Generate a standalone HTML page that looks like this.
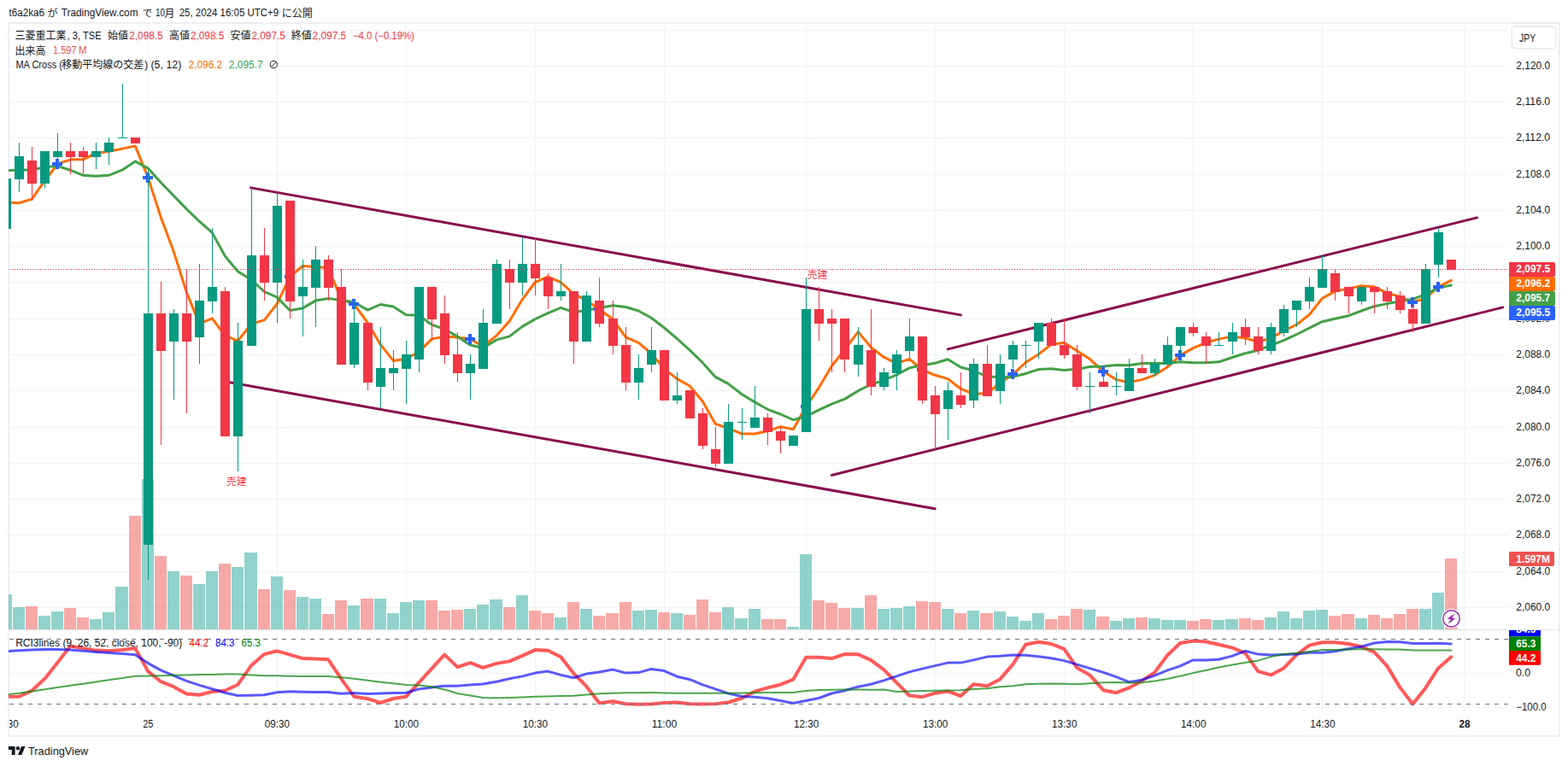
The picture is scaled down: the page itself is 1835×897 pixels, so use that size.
<!DOCTYPE html><html><head><meta charset="utf-8"><title>chart</title><style>html,body{margin:0;padding:0;background:#fff}svg{display:block}</style></head><body><svg width="1835" height="897" viewBox="0 0 1835 897" font-family="'Liberation Sans', sans-serif">
<rect width="1835" height="897" fill="#fff"/>
<defs><clipPath id="cp"><rect x="11" y="28" width="1754" height="805"/></clipPath><clipPath id="cpm"><rect x="10" y="28" width="1755" height="709"/></clipPath><clipPath id="cpr"><rect x="10" y="738" width="1755" height="95"/></clipPath><clipPath id="cpt"><rect x="11" y="834" width="1754" height="27"/></clipPath><clipPath id="cpa"><rect x="1765" y="738" width="59" height="95"/></clipPath></defs>
<rect x="10" y="27" width="1815" height="835" fill="none" stroke="#edeff5" stroke-width="2"/>
<g fill="#f0f3f4" shape-rendering="crispEdges"><rect x="11" y="711" width="1754" height="1"/><rect x="11" y="669" width="1754" height="1"/><rect x="11" y="626" width="1754" height="1"/><rect x="11" y="584" width="1754" height="1"/><rect x="11" y="542" width="1754" height="1"/><rect x="11" y="500" width="1754" height="1"/><rect x="11" y="457" width="1754" height="1"/><rect x="11" y="415" width="1754" height="1"/><rect x="11" y="373" width="1754" height="1"/><rect x="11" y="330" width="1754" height="1"/><rect x="11" y="288" width="1754" height="1"/><rect x="11" y="246" width="1754" height="1"/><rect x="11" y="204" width="1754" height="1"/><rect x="11" y="161" width="1754" height="1"/><rect x="11" y="119" width="1754" height="1"/><rect x="11" y="77" width="1754" height="1"/><rect x="11" y="35" width="1754" height="1"/><rect x="11" y="788" width="1754" height="1"/><rect x="11" y="828" width="1754" height="1"/><rect x="173" y="28" width="1" height="806"/><rect x="324" y="28" width="1" height="806"/><rect x="475" y="28" width="1" height="806"/><rect x="626" y="28" width="1" height="806"/><rect x="777" y="28" width="1" height="806"/><rect x="943" y="28" width="1" height="806"/><rect x="1094" y="28" width="1" height="806"/><rect x="1245" y="28" width="1" height="806"/><rect x="1396" y="28" width="1" height="806"/><rect x="1547" y="28" width="1" height="806"/><rect x="1713" y="28" width="1" height="806"/></g>
<rect x="11" y="737" width="1813" height="1" fill="#e0e3eb" shape-rendering="crispEdges"/>
<g clip-path="url(#cpm)" shape-rendering="crispEdges"><rect x="-1" y="696" width="15" height="41" fill="rgba(38,166,154,0.5)"/><rect x="15" y="711" width="14" height="26" fill="rgba(38,166,154,0.5)"/><rect x="30" y="710" width="14" height="27" fill="rgba(239,83,80,0.5)"/><rect x="45" y="721" width="14" height="16" fill="rgba(38,166,154,0.5)"/><rect x="60" y="716" width="14" height="21" fill="rgba(38,166,154,0.5)"/><rect x="75" y="712" width="14" height="25" fill="rgba(239,83,80,0.5)"/><rect x="90" y="723" width="14" height="14" fill="rgba(239,83,80,0.5)"/><rect x="105" y="725" width="14" height="12" fill="rgba(38,166,154,0.5)"/><rect x="120" y="717" width="14" height="20" fill="rgba(38,166,154,0.5)"/><rect x="135" y="687" width="15" height="50" fill="rgba(38,166,154,0.5)"/><rect x="151" y="604" width="14" height="133" fill="rgba(239,83,80,0.5)"/><rect x="166" y="561" width="14" height="176" fill="rgba(38,166,154,0.5)"/><rect x="181" y="651" width="14" height="86" fill="rgba(239,83,80,0.5)"/><rect x="196" y="669" width="14" height="68" fill="rgba(38,166,154,0.5)"/><rect x="211" y="674" width="14" height="63" fill="rgba(239,83,80,0.5)"/><rect x="226" y="684" width="14" height="53" fill="rgba(38,166,154,0.5)"/><rect x="241" y="669" width="14" height="68" fill="rgba(38,166,154,0.5)"/><rect x="256" y="660" width="14" height="77" fill="rgba(239,83,80,0.5)"/><rect x="271" y="664" width="14" height="73" fill="rgba(38,166,154,0.5)"/><rect x="286" y="647" width="15" height="90" fill="rgba(38,166,154,0.5)"/><rect x="302" y="690" width="14" height="47" fill="rgba(239,83,80,0.5)"/><rect x="317" y="675" width="14" height="62" fill="rgba(38,166,154,0.5)"/><rect x="332" y="691" width="14" height="46" fill="rgba(239,83,80,0.5)"/><rect x="347" y="699" width="14" height="38" fill="rgba(38,166,154,0.5)"/><rect x="362" y="701" width="14" height="36" fill="rgba(38,166,154,0.5)"/><rect x="377" y="719" width="14" height="18" fill="rgba(239,83,80,0.5)"/><rect x="392" y="703" width="14" height="34" fill="rgba(239,83,80,0.5)"/><rect x="407" y="709" width="14" height="28" fill="rgba(38,166,154,0.5)"/><rect x="422" y="701" width="15" height="36" fill="rgba(239,83,80,0.5)"/><rect x="438" y="701" width="14" height="36" fill="rgba(38,166,154,0.5)"/><rect x="453" y="718" width="14" height="19" fill="rgba(38,166,154,0.5)"/><rect x="468" y="705" width="14" height="32" fill="rgba(38,166,154,0.5)"/><rect x="483" y="703" width="14" height="34" fill="rgba(38,166,154,0.5)"/><rect x="498" y="703" width="14" height="34" fill="rgba(239,83,80,0.5)"/><rect x="513" y="715" width="14" height="22" fill="rgba(239,83,80,0.5)"/><rect x="528" y="714" width="14" height="23" fill="rgba(239,83,80,0.5)"/><rect x="543" y="713" width="14" height="24" fill="rgba(38,166,154,0.5)"/><rect x="558" y="708" width="14" height="29" fill="rgba(38,166,154,0.5)"/><rect x="573" y="702" width="15" height="35" fill="rgba(38,166,154,0.5)"/><rect x="589" y="711" width="14" height="26" fill="rgba(239,83,80,0.5)"/><rect x="604" y="697" width="14" height="40" fill="rgba(38,166,154,0.5)"/><rect x="619" y="715" width="14" height="22" fill="rgba(239,83,80,0.5)"/><rect x="634" y="718" width="14" height="19" fill="rgba(239,83,80,0.5)"/><rect x="649" y="723" width="14" height="14" fill="rgba(38,166,154,0.5)"/><rect x="664" y="705" width="14" height="32" fill="rgba(239,83,80,0.5)"/><rect x="679" y="713" width="14" height="24" fill="rgba(38,166,154,0.5)"/><rect x="694" y="721" width="14" height="16" fill="rgba(239,83,80,0.5)"/><rect x="709" y="718" width="15" height="19" fill="rgba(239,83,80,0.5)"/><rect x="725" y="705" width="14" height="32" fill="rgba(239,83,80,0.5)"/><rect x="740" y="715" width="14" height="22" fill="rgba(38,166,154,0.5)"/><rect x="755" y="714" width="14" height="23" fill="rgba(38,166,154,0.5)"/><rect x="770" y="717" width="14" height="20" fill="rgba(239,83,80,0.5)"/><rect x="785" y="718" width="14" height="19" fill="rgba(38,166,154,0.5)"/><rect x="800" y="720" width="14" height="17" fill="rgba(239,83,80,0.5)"/><rect x="815" y="702" width="14" height="35" fill="rgba(239,83,80,0.5)"/><rect x="830" y="717" width="14" height="20" fill="rgba(239,83,80,0.5)"/><rect x="845" y="711" width="14" height="26" fill="rgba(38,166,154,0.5)"/><rect x="860" y="724" width="15" height="13" fill="rgba(38,166,154,0.5)"/><rect x="876" y="713" width="14" height="24" fill="rgba(38,166,154,0.5)"/><rect x="891" y="725" width="14" height="12" fill="rgba(239,83,80,0.5)"/><rect x="906" y="725" width="14" height="12" fill="rgba(239,83,80,0.5)"/><rect x="921" y="734" width="14" height="3" fill="rgba(38,166,154,0.5)"/><rect x="936" y="649" width="14" height="88" fill="rgba(38,166,154,0.5)"/><rect x="951" y="703" width="14" height="34" fill="rgba(239,83,80,0.5)"/><rect x="966" y="706" width="14" height="31" fill="rgba(239,83,80,0.5)"/><rect x="981" y="712" width="14" height="25" fill="rgba(239,83,80,0.5)"/><rect x="996" y="712" width="15" height="25" fill="rgba(38,166,154,0.5)"/><rect x="1012" y="697" width="14" height="40" fill="rgba(239,83,80,0.5)"/><rect x="1027" y="713" width="14" height="24" fill="rgba(38,166,154,0.5)"/><rect x="1042" y="712" width="14" height="25" fill="rgba(38,166,154,0.5)"/><rect x="1057" y="710" width="14" height="27" fill="rgba(38,166,154,0.5)"/><rect x="1072" y="704" width="14" height="33" fill="rgba(239,83,80,0.5)"/><rect x="1087" y="705" width="14" height="32" fill="rgba(239,83,80,0.5)"/><rect x="1102" y="713" width="14" height="24" fill="rgba(38,166,154,0.5)"/><rect x="1117" y="718" width="14" height="19" fill="rgba(239,83,80,0.5)"/><rect x="1132" y="715" width="14" height="22" fill="rgba(38,166,154,0.5)"/><rect x="1147" y="718" width="15" height="19" fill="rgba(239,83,80,0.5)"/><rect x="1163" y="716" width="14" height="21" fill="rgba(38,166,154,0.5)"/><rect x="1178" y="722" width="14" height="15" fill="rgba(38,166,154,0.5)"/><rect x="1193" y="727" width="14" height="10" fill="rgba(38,166,154,0.5)"/><rect x="1208" y="718" width="14" height="19" fill="rgba(38,166,154,0.5)"/><rect x="1223" y="725" width="14" height="12" fill="rgba(239,83,80,0.5)"/><rect x="1238" y="721" width="14" height="16" fill="rgba(239,83,80,0.5)"/><rect x="1253" y="713" width="14" height="24" fill="rgba(239,83,80,0.5)"/><rect x="1268" y="714" width="14" height="23" fill="rgba(38,166,154,0.5)"/><rect x="1283" y="722" width="15" height="15" fill="rgba(239,83,80,0.5)"/><rect x="1299" y="727" width="14" height="10" fill="rgba(38,166,154,0.5)"/><rect x="1314" y="724" width="14" height="13" fill="rgba(38,166,154,0.5)"/><rect x="1329" y="723" width="14" height="14" fill="rgba(239,83,80,0.5)"/><rect x="1344" y="724" width="14" height="13" fill="rgba(38,166,154,0.5)"/><rect x="1359" y="726" width="14" height="11" fill="rgba(38,166,154,0.5)"/><rect x="1374" y="726" width="14" height="11" fill="rgba(38,166,154,0.5)"/><rect x="1389" y="727" width="14" height="10" fill="rgba(239,83,80,0.5)"/><rect x="1404" y="725" width="14" height="12" fill="rgba(239,83,80,0.5)"/><rect x="1419" y="726" width="14" height="11" fill="rgba(38,166,154,0.5)"/><rect x="1434" y="725" width="15" height="12" fill="rgba(38,166,154,0.5)"/><rect x="1450" y="724" width="14" height="13" fill="rgba(239,83,80,0.5)"/><rect x="1465" y="726" width="14" height="11" fill="rgba(239,83,80,0.5)"/><rect x="1480" y="723" width="14" height="14" fill="rgba(38,166,154,0.5)"/><rect x="1495" y="716" width="14" height="21" fill="rgba(38,166,154,0.5)"/><rect x="1510" y="724" width="14" height="13" fill="rgba(38,166,154,0.5)"/><rect x="1525" y="715" width="14" height="22" fill="rgba(38,166,154,0.5)"/><rect x="1540" y="714" width="14" height="23" fill="rgba(38,166,154,0.5)"/><rect x="1555" y="721" width="14" height="16" fill="rgba(239,83,80,0.5)"/><rect x="1570" y="719" width="15" height="18" fill="rgba(239,83,80,0.5)"/><rect x="1586" y="724" width="14" height="13" fill="rgba(38,166,154,0.5)"/><rect x="1601" y="720" width="14" height="17" fill="rgba(239,83,80,0.5)"/><rect x="1616" y="724" width="14" height="13" fill="rgba(239,83,80,0.5)"/><rect x="1631" y="719" width="14" height="18" fill="rgba(239,83,80,0.5)"/><rect x="1646" y="713" width="14" height="24" fill="rgba(239,83,80,0.5)"/><rect x="1661" y="713" width="14" height="24" fill="rgba(38,166,154,0.5)"/><rect x="1676" y="694" width="14" height="43" fill="rgba(38,166,154,0.5)"/><rect x="1691" y="654" width="14" height="83" fill="rgba(239,83,80,0.5)"/></g>
<g clip-path="url(#cpm)">
<polyline points="7.25,236.8 22.25,237.7 37.25,233.1 52.25,211.8 67.25,192.1 82.25,186.8 97.25,186.8 112.25,179.4 127.25,177.3 143.25,174.1 158.25,170.9 173.25,207.9 188.25,254.4 203.25,294.6 218.25,342.1 233.25,379.1 248.25,372.8 263.25,392.8 278.25,399.2 294.25,379.1 309.25,374.9 324.25,355.8 339.25,324.1 354.25,311.5 369.25,312.5 384.25,313.6 399.25,350.6 414.25,355.8 430.25,378.0 445.25,403.4 460.25,422.4 475.25,420.3 490.25,411.9 505.25,397.1 520.25,393.9 535.25,394.9 550.25,397.1 565.25,405.5 581.25,392.8 596.25,375.9 611.25,350.6 626.25,330.5 641.25,324.1 656.25,330.5 671.25,344.2 686.25,351.6 701.25,362.2 717.25,373.8 732.25,394.9 747.25,401.3 762.25,414.0 777.25,431.9 792.25,443.6 807.25,452.0 822.25,470.0 837.25,496.4 852.25,501.7 868.25,508.0 883.25,508.0 898.25,504.8 913.25,499.6 928.25,502.7 943.25,476.3 958.25,454.1 973.25,428.8 988.25,409.7 1004.25,388.6 1019.25,406.6 1034.25,418.2 1049.25,425.6 1064.25,420.3 1079.25,433.0 1094.25,439.3 1109.25,443.6 1124.25,455.2 1139.25,461.5 1155.25,460.5 1170.25,448.8 1185.25,438.3 1200.25,424.5 1215.25,415.0 1230.25,403.4 1245.25,401.3 1260.25,410.8 1275.25,420.3 1291.25,435.1 1306.25,444.6 1321.25,447.8 1336.25,444.6 1351.25,439.3 1366.25,429.8 1381.25,416.1 1396.25,407.6 1411.25,401.3 1426.25,397.1 1442.25,393.9 1457.25,396.0 1472.25,400.2 1487.25,396.0 1502.25,387.5 1517.25,380.2 1532.25,368.5 1547.25,349.5 1562.25,341.1 1578.25,337.9 1593.25,334.7 1608.25,335.8 1623.25,343.2 1638.25,347.4 1653.25,353.7 1668.25,349.5 1683.25,335.8 1698.25,328.4" fill="none" stroke="#ff6d00" stroke-width="3" stroke-linejoin="round" stroke-linecap="round" />
<polyline points="7.25,199.9 22.25,198.8 37.25,199.2 52.25,195.5 67.25,194.4 82.25,199.2 97.25,205.3 112.25,206.2 127.25,205.3 143.25,198.9 158.25,188.9 173.25,197.1 188.25,213.8 203.25,229.2 218.25,244.6 233.25,259.2 248.25,272.4 263.25,299.7 278.25,317.7 294.25,327.8 309.25,341.5 324.25,348.1 339.25,363.5 354.25,360.9 369.25,352.1 384.25,349.4 399.25,351.6 414.25,353.8 430.25,363.1 445.25,356.5 460.25,359.1 475.25,368.8 490.25,369.2 505.25,380.2 520.25,385.5 535.25,393.9 550.25,404.0 565.25,407.5 581.25,397.9 596.25,393.9 611.25,382.4 626.25,373.6 641.25,366.6 656.25,360.4 671.25,365.7 686.25,363.5 701.25,360.4 717.25,357.8 732.25,359.5 747.25,364.0 762.25,372.3 777.25,383.8 792.25,396.5 807.25,410.2 822.25,424.7 837.25,441.4 852.25,449.4 868.25,461.7 883.25,470.9 898.25,479.3 913.25,485.0 928.25,491.6 943.25,487.7 958.25,480.2 973.25,473.1 988.25,467.4 1004.25,457.7 1019.25,450.2 1034.25,445.4 1049.25,438.8 1064.25,430.9 1079.25,427.8 1094.25,425.2 1109.25,420.7 1124.25,430.0 1139.25,434.0 1155.25,441.0 1170.25,441.4 1185.25,441.4 1200.25,437.5 1215.25,432.6 1230.25,431.8 1245.25,433.5 1260.25,432.2 1275.25,429.6 1291.25,429.1 1306.25,427.4 1321.25,427.8 1336.25,425.6 1351.25,425.6 1366.25,425.6 1381.25,423.8 1396.25,424.7 1411.25,424.7 1426.25,423.8 1442.25,418.5 1457.25,413.7 1472.25,410.2 1487.25,404.5 1502.25,398.7 1517.25,391.7 1532.25,384.2 1547.25,376.7 1562.25,373.2 1578.25,369.7 1593.25,364.0 1608.25,358.7 1623.25,355.6 1638.25,352.9 1653.25,350.3 1668.25,344.6 1683.25,337.1 1698.25,334.0" fill="none" stroke="#43a047" stroke-width="3" stroke-linejoin="round" stroke-linecap="round" />
<path d="M61 190h4v-4h4v4h4v4h-4v4h-4v-4h-4z" fill="#2962ff" shape-rendering="crispEdges"/>
<path d="M167 206h4v-4h4v4h4v4h-4v4h-4v-4h-4z" fill="#2962ff" shape-rendering="crispEdges"/>
<path d="M333 322h4v-4h4v4h4v4h-4v4h-4v-4h-4z" fill="#2962ff" shape-rendering="crispEdges"/>
<path d="M408 354h4v-4h4v4h4v4h-4v4h-4v-4h-4z" fill="#2962ff" shape-rendering="crispEdges"/>
<path d="M544 395h4v-4h4v4h4v4h-4v4h-4v-4h-4z" fill="#2962ff" shape-rendering="crispEdges"/>
<path d="M695 360h4v-4h4v4h4v4h-4v4h-4v-4h-4z" fill="#2962ff" shape-rendering="crispEdges"/>
<path d="M937 474h4v-4h4v4h4v4h-4v4h-4v-4h-4z" fill="#2962ff" shape-rendering="crispEdges"/>
<path d="M1073 431h4v-4h4v4h4v4h-4v4h-4v-4h-4z" fill="#2962ff" shape-rendering="crispEdges"/>
<path d="M1179 436h4v-4h4v4h4v4h-4v4h-4v-4h-4z" fill="#2962ff" shape-rendering="crispEdges"/>
<path d="M1285 433h4v-4h4v4h4v4h-4v4h-4v-4h-4z" fill="#2962ff" shape-rendering="crispEdges"/>
<path d="M1375 414h4v-4h4v4h4v4h-4v4h-4v-4h-4z" fill="#2962ff" shape-rendering="crispEdges"/>
<path d="M1647 352h4v-4h4v4h4v4h-4v4h-4v-4h-4z" fill="#2962ff" shape-rendering="crispEdges"/>
<path d="M1677 334h4v-4h4v4h4v4h-4v4h-4v-4h-4z" fill="#2962ff" shape-rendering="crispEdges"/>
</g>
<line x1="293.59" y1="219.86" x2="1124.37" y2="368.89" stroke="#880e4f" stroke-width="3" stroke-linecap="round"/>
<line x1="263.38" y1="446.69" x2="1094.15" y2="595.78" stroke="#880e4f" stroke-width="3" stroke-linecap="round"/>
<line x1="1109.26" y1="408.86" x2="1728.57" y2="254.91" stroke="#880e4f" stroke-width="3" stroke-linecap="round"/>
<line x1="973.32" y1="556.42" x2="1758.78" y2="359.91" stroke="#880e4f" stroke-width="3" stroke-linecap="round"/>
<g clip-path="url(#cpm)" shape-rendering="crispEdges"><rect x="7" y="209" width="1" height="58" fill="#089981"/><rect x="2" y="209" width="11" height="59" fill="#089981"/><rect x="22" y="167" width="1" height="58" fill="#089981"/><rect x="17" y="183" width="11" height="27" fill="#089981"/><rect x="37" y="172" width="1" height="63" fill="#f23645"/><rect x="32" y="188" width="11" height="27" fill="#f23645"/><rect x="52" y="177" width="1" height="43" fill="#089981"/><rect x="47" y="177" width="11" height="38" fill="#089981"/><rect x="67" y="156" width="1" height="37" fill="#089981"/><rect x="62" y="177" width="11" height="7" fill="#089981"/><rect x="82" y="167" width="1" height="37" fill="#f23645"/><rect x="77" y="177" width="11" height="7" fill="#f23645"/><rect x="97" y="172" width="1" height="32" fill="#f23645"/><rect x="92" y="177" width="11" height="7" fill="#f23645"/><rect x="112" y="167" width="1" height="31" fill="#089981"/><rect x="107" y="177" width="11" height="7" fill="#089981"/><rect x="127" y="161" width="1" height="32" fill="#089981"/><rect x="122" y="167" width="11" height="11" fill="#089981"/><rect x="143" y="98" width="1" height="63" fill="#089981"/><rect x="138" y="161" width="11" height="1" fill="#089981"/><rect x="158" y="161" width="1" height="6" fill="#f23645"/><rect x="153" y="161" width="11" height="7" fill="#f23645"/><rect x="173" y="198" width="1" height="481" fill="#089981"/><rect x="168" y="367" width="11" height="271" fill="#089981"/><rect x="188" y="330" width="1" height="191" fill="#f23645"/><rect x="183" y="367" width="11" height="44" fill="#f23645"/><rect x="203" y="362" width="1" height="106" fill="#089981"/><rect x="198" y="367" width="11" height="33" fill="#089981"/><rect x="218" y="315" width="1" height="169" fill="#f23645"/><rect x="213" y="367" width="11" height="33" fill="#f23645"/><rect x="233" y="309" width="1" height="117" fill="#089981"/><rect x="228" y="352" width="11" height="43" fill="#089981"/><rect x="248" y="267" width="1" height="100" fill="#089981"/><rect x="243" y="336" width="11" height="17" fill="#089981"/><rect x="263" y="336" width="1" height="174" fill="#f23645"/><rect x="258" y="341" width="11" height="170" fill="#f23645"/><rect x="278" y="378" width="1" height="174" fill="#089981"/><rect x="273" y="399" width="11" height="112" fill="#089981"/><rect x="294" y="220" width="1" height="184" fill="#089981"/><rect x="289" y="299" width="11" height="106" fill="#089981"/><rect x="309" y="267" width="1" height="85" fill="#f23645"/><rect x="304" y="299" width="11" height="32" fill="#f23645"/><rect x="324" y="225" width="1" height="153" fill="#089981"/><rect x="319" y="241" width="11" height="90" fill="#089981"/><rect x="339" y="235" width="1" height="138" fill="#f23645"/><rect x="334" y="235" width="11" height="118" fill="#f23645"/><rect x="354" y="304" width="1" height="90" fill="#089981"/><rect x="349" y="336" width="11" height="11" fill="#089981"/><rect x="369" y="288" width="1" height="95" fill="#089981"/><rect x="364" y="304" width="11" height="33" fill="#089981"/><rect x="384" y="299" width="1" height="53" fill="#f23645"/><rect x="379" y="304" width="11" height="33" fill="#f23645"/><rect x="399" y="315" width="1" height="111" fill="#f23645"/><rect x="394" y="336" width="11" height="91" fill="#f23645"/><rect x="414" y="352" width="1" height="79" fill="#089981"/><rect x="409" y="378" width="11" height="49" fill="#089981"/><rect x="430" y="378" width="1" height="79" fill="#f23645"/><rect x="425" y="378" width="11" height="70" fill="#f23645"/><rect x="445" y="383" width="1" height="95" fill="#089981"/><rect x="440" y="431" width="11" height="22" fill="#089981"/><rect x="460" y="410" width="1" height="47" fill="#089981"/><rect x="455" y="431" width="11" height="6" fill="#089981"/><rect x="475" y="399" width="1" height="74" fill="#089981"/><rect x="470" y="415" width="11" height="17" fill="#089981"/><rect x="490" y="336" width="1" height="100" fill="#089981"/><rect x="485" y="336" width="11" height="85" fill="#089981"/><rect x="505" y="336" width="1" height="63" fill="#f23645"/><rect x="500" y="336" width="11" height="38" fill="#f23645"/><rect x="520" y="346" width="1" height="80" fill="#f23645"/><rect x="515" y="367" width="11" height="49" fill="#f23645"/><rect x="535" y="389" width="1" height="58" fill="#f23645"/><rect x="530" y="415" width="11" height="22" fill="#f23645"/><rect x="550" y="415" width="1" height="53" fill="#089981"/><rect x="545" y="426" width="11" height="11" fill="#089981"/><rect x="565" y="362" width="1" height="69" fill="#089981"/><rect x="560" y="378" width="11" height="54" fill="#089981"/><rect x="581" y="304" width="1" height="74" fill="#089981"/><rect x="576" y="309" width="11" height="70" fill="#089981"/><rect x="596" y="304" width="1" height="58" fill="#f23645"/><rect x="591" y="315" width="11" height="16" fill="#f23645"/><rect x="611" y="278" width="1" height="68" fill="#089981"/><rect x="606" y="309" width="11" height="22" fill="#089981"/><rect x="626" y="278" width="1" height="68" fill="#f23645"/><rect x="621" y="309" width="11" height="17" fill="#f23645"/><rect x="641" y="320" width="1" height="42" fill="#f23645"/><rect x="636" y="325" width="11" height="22" fill="#f23645"/><rect x="656" y="309" width="1" height="43" fill="#089981"/><rect x="651" y="341" width="11" height="6" fill="#089981"/><rect x="671" y="341" width="1" height="85" fill="#f23645"/><rect x="666" y="341" width="11" height="59" fill="#f23645"/><rect x="686" y="341" width="1" height="58" fill="#089981"/><rect x="681" y="346" width="11" height="54" fill="#089981"/><rect x="701" y="325" width="1" height="58" fill="#f23645"/><rect x="696" y="352" width="11" height="27" fill="#f23645"/><rect x="717" y="352" width="1" height="63" fill="#f23645"/><rect x="712" y="373" width="11" height="32" fill="#f23645"/><rect x="732" y="383" width="1" height="74" fill="#f23645"/><rect x="727" y="404" width="11" height="44" fill="#f23645"/><rect x="747" y="415" width="1" height="53" fill="#089981"/><rect x="742" y="431" width="11" height="17" fill="#089981"/><rect x="762" y="383" width="1" height="53" fill="#089981"/><rect x="757" y="410" width="11" height="17" fill="#089981"/><rect x="777" y="410" width="1" height="58" fill="#f23645"/><rect x="772" y="410" width="11" height="59" fill="#f23645"/><rect x="792" y="436" width="1" height="37" fill="#089981"/><rect x="787" y="463" width="11" height="6" fill="#089981"/><rect x="807" y="457" width="1" height="32" fill="#f23645"/><rect x="802" y="457" width="11" height="33" fill="#f23645"/><rect x="822" y="478" width="1" height="48" fill="#f23645"/><rect x="817" y="484" width="11" height="38" fill="#f23645"/><rect x="837" y="500" width="1" height="47" fill="#f23645"/><rect x="832" y="526" width="11" height="17" fill="#f23645"/><rect x="852" y="473" width="1" height="69" fill="#089981"/><rect x="847" y="494" width="11" height="49" fill="#089981"/><rect x="868" y="478" width="1" height="37" fill="#089981"/><rect x="863" y="494" width="11" height="1" fill="#089981"/><rect x="883" y="452" width="1" height="48" fill="#089981"/><rect x="878" y="489" width="11" height="12" fill="#089981"/><rect x="898" y="484" width="1" height="37" fill="#f23645"/><rect x="893" y="489" width="11" height="17" fill="#f23645"/><rect x="913" y="500" width="1" height="31" fill="#f23645"/><rect x="908" y="505" width="11" height="11" fill="#f23645"/><rect x="928" y="510" width="1" height="11" fill="#089981"/><rect x="923" y="510" width="11" height="12" fill="#089981"/><rect x="943" y="325" width="1" height="180" fill="#089981"/><rect x="938" y="362" width="11" height="144" fill="#089981"/><rect x="958" y="336" width="1" height="63" fill="#f23645"/><rect x="953" y="362" width="11" height="17" fill="#f23645"/><rect x="973" y="362" width="1" height="74" fill="#f23645"/><rect x="968" y="373" width="11" height="6" fill="#f23645"/><rect x="988" y="373" width="1" height="63" fill="#f23645"/><rect x="983" y="373" width="11" height="48" fill="#f23645"/><rect x="1004" y="383" width="1" height="58" fill="#089981"/><rect x="999" y="404" width="11" height="23" fill="#089981"/><rect x="1019" y="362" width="1" height="101" fill="#f23645"/><rect x="1014" y="410" width="11" height="43" fill="#f23645"/><rect x="1034" y="431" width="1" height="26" fill="#089981"/><rect x="1029" y="436" width="11" height="17" fill="#089981"/><rect x="1049" y="410" width="1" height="47" fill="#089981"/><rect x="1044" y="415" width="11" height="22" fill="#089981"/><rect x="1064" y="373" width="1" height="47" fill="#089981"/><rect x="1059" y="394" width="11" height="17" fill="#089981"/><rect x="1079" y="394" width="1" height="79" fill="#f23645"/><rect x="1074" y="394" width="11" height="75" fill="#f23645"/><rect x="1094" y="452" width="1" height="74" fill="#f23645"/><rect x="1089" y="463" width="11" height="22" fill="#f23645"/><rect x="1109" y="447" width="1" height="68" fill="#089981"/><rect x="1104" y="457" width="11" height="22" fill="#089981"/><rect x="1124" y="436" width="1" height="42" fill="#f23645"/><rect x="1119" y="463" width="11" height="11" fill="#f23645"/><rect x="1139" y="420" width="1" height="58" fill="#089981"/><rect x="1134" y="426" width="11" height="43" fill="#089981"/><rect x="1155" y="404" width="1" height="59" fill="#f23645"/><rect x="1150" y="426" width="11" height="38" fill="#f23645"/><rect x="1170" y="415" width="1" height="58" fill="#089981"/><rect x="1165" y="426" width="11" height="32" fill="#089981"/><rect x="1185" y="399" width="1" height="32" fill="#089981"/><rect x="1180" y="404" width="11" height="17" fill="#089981"/><rect x="1200" y="399" width="1" height="32" fill="#089981"/><rect x="1195" y="404" width="11" height="1" fill="#089981"/><rect x="1215" y="378" width="1" height="42" fill="#089981"/><rect x="1210" y="378" width="11" height="22" fill="#089981"/><rect x="1230" y="373" width="1" height="31" fill="#f23645"/><rect x="1225" y="378" width="11" height="27" fill="#f23645"/><rect x="1245" y="373" width="1" height="47" fill="#f23645"/><rect x="1240" y="404" width="11" height="12" fill="#f23645"/><rect x="1260" y="404" width="1" height="53" fill="#f23645"/><rect x="1255" y="415" width="11" height="38" fill="#f23645"/><rect x="1275" y="436" width="1" height="48" fill="#089981"/><rect x="1270" y="452" width="11" height="1" fill="#089981"/><rect x="1291" y="431" width="1" height="21" fill="#f23645"/><rect x="1286" y="447" width="11" height="6" fill="#f23645"/><rect x="1306" y="436" width="1" height="27" fill="#089981"/><rect x="1301" y="452" width="11" height="1" fill="#089981"/><rect x="1321" y="420" width="1" height="37" fill="#089981"/><rect x="1316" y="431" width="11" height="27" fill="#089981"/><rect x="1336" y="415" width="1" height="21" fill="#f23645"/><rect x="1331" y="431" width="11" height="6" fill="#f23645"/><rect x="1351" y="420" width="1" height="21" fill="#089981"/><rect x="1346" y="426" width="11" height="11" fill="#089981"/><rect x="1366" y="394" width="1" height="37" fill="#089981"/><rect x="1361" y="404" width="11" height="23" fill="#089981"/><rect x="1381" y="383" width="1" height="32" fill="#089981"/><rect x="1376" y="383" width="11" height="22" fill="#089981"/><rect x="1396" y="378" width="1" height="16" fill="#f23645"/><rect x="1391" y="383" width="11" height="7" fill="#f23645"/><rect x="1411" y="389" width="1" height="37" fill="#f23645"/><rect x="1406" y="394" width="11" height="11" fill="#f23645"/><rect x="1426" y="389" width="1" height="15" fill="#089981"/><rect x="1421" y="404" width="11" height="1" fill="#089981"/><rect x="1442" y="378" width="1" height="37" fill="#089981"/><rect x="1437" y="389" width="11" height="11" fill="#089981"/><rect x="1457" y="373" width="1" height="31" fill="#f23645"/><rect x="1452" y="383" width="11" height="12" fill="#f23645"/><rect x="1472" y="383" width="1" height="32" fill="#f23645"/><rect x="1467" y="394" width="11" height="17" fill="#f23645"/><rect x="1487" y="378" width="1" height="37" fill="#089981"/><rect x="1482" y="383" width="11" height="28" fill="#089981"/><rect x="1502" y="357" width="1" height="37" fill="#089981"/><rect x="1497" y="362" width="11" height="28" fill="#089981"/><rect x="1517" y="352" width="1" height="31" fill="#089981"/><rect x="1512" y="352" width="11" height="11" fill="#089981"/><rect x="1532" y="325" width="1" height="37" fill="#089981"/><rect x="1527" y="336" width="11" height="17" fill="#089981"/><rect x="1547" y="299" width="1" height="37" fill="#089981"/><rect x="1542" y="315" width="11" height="22" fill="#089981"/><rect x="1562" y="315" width="1" height="37" fill="#f23645"/><rect x="1557" y="320" width="11" height="22" fill="#f23645"/><rect x="1578" y="336" width="1" height="31" fill="#f23645"/><rect x="1573" y="336" width="11" height="11" fill="#f23645"/><rect x="1593" y="336" width="1" height="21" fill="#089981"/><rect x="1588" y="336" width="11" height="17" fill="#089981"/><rect x="1608" y="336" width="1" height="31" fill="#f23645"/><rect x="1603" y="336" width="11" height="6" fill="#f23645"/><rect x="1623" y="336" width="1" height="26" fill="#f23645"/><rect x="1618" y="341" width="11" height="12" fill="#f23645"/><rect x="1638" y="341" width="1" height="26" fill="#f23645"/><rect x="1633" y="346" width="11" height="17" fill="#f23645"/><rect x="1653" y="357" width="1" height="32" fill="#f23645"/><rect x="1648" y="362" width="11" height="17" fill="#f23645"/><rect x="1668" y="309" width="1" height="69" fill="#089981"/><rect x="1663" y="315" width="11" height="64" fill="#089981"/><rect x="1683" y="267" width="1" height="58" fill="#089981"/><rect x="1678" y="272" width="11" height="38" fill="#089981"/><rect x="1698" y="304" width="1" height="11" fill="#f23645"/><rect x="1693" y="304" width="11" height="12" fill="#f23645"/></g>
<line x1="11" y1="315.5" x2="1764" y2="315.5" stroke="#f23645" stroke-width="1" stroke-dasharray="1 2" shape-rendering="crispEdges"/>
<text x="264.9" y="568.2" font-size="11.8" fill="#f23645" font-family="'Liberation Sans', 'Noto Sans CJK JP', sans-serif" textLength="23.6" lengthAdjust="spacingAndGlyphs" xml:space="preserve">売建</text>
<text x="944.7" y="326.0" font-size="11.8" fill="#f23645" font-family="'Liberation Sans', 'Noto Sans CJK JP', sans-serif" textLength="23.6" lengthAdjust="spacingAndGlyphs" xml:space="preserve">売建</text>
<g><circle cx="1698.45" cy="724.4" r="11.4" fill="#fff"/><circle cx="1698.45" cy="724.4" r="9.75" fill="#fff" stroke="#9c27b0" stroke-width="1.5"/><path d="M1701.7 719l-7.7 5.55 4.05.4-2.9 5 7.8-5.7-4-.3z" fill="#9c27b0" stroke="#9c27b0" stroke-width="0.5" stroke-linejoin="round"/></g>
<g clip-path="url(#cpr)">
<polyline points="7.25,815.7 22.25,815.7 37.25,808.7 52.25,794.9 67.25,776.1 82.25,756.6 97.25,759.1 112.25,761.6 127.25,762.3 143.25,761.1 158.25,759.1 173.25,786.1 188.25,798.2 203.25,804.2 218.25,812.5 233.25,813.7 248.25,810.0 263.25,808.7 278.25,801.7 294.25,779.1 309.25,766.1 324.25,762.3 339.25,766.6 354.25,771.1 369.25,771.6 384.25,772.3 399.25,794.9 414.25,815.7 430.25,818.2 445.25,823.0 460.25,818.0 475.25,815.7 490.25,799.4 505.25,782.9 520.25,766.6 535.25,781.1 550.25,776.1 565.25,781.9 581.25,776.9 596.25,774.4 611.25,767.8 626.25,761.1 641.25,761.8 656.25,769.3 671.25,788.6 686.25,803.7 701.25,823.2 717.25,821.2 732.25,824.2 747.25,824.7 762.25,824.5 777.25,823.0 792.25,822.5 807.25,824.2 822.25,824.5 837.25,824.2 852.25,822.5 868.25,817.5 883.25,809.7 898.25,805.4 913.25,801.7 928.25,795.7 943.25,769.8 958.25,769.8 973.25,771.1 988.25,766.1 1004.25,766.3 1019.25,773.1 1034.25,784.1 1049.25,799.4 1064.25,814.5 1079.25,816.2 1094.25,811.7 1109.25,809.5 1124.25,815.0 1139.25,801.2 1155.25,803.2 1170.25,795.4 1185.25,778.1 1200.25,754.8 1215.25,751.8 1230.25,754.0 1245.25,759.8 1260.25,781.9 1275.25,790.4 1291.25,808.2 1306.25,811.2 1321.25,805.4 1336.25,797.4 1351.25,787.4 1366.25,767.3 1381.25,753.0 1396.25,750.5 1411.25,751.5 1426.25,754.8 1442.25,758.6 1457.25,764.8 1472.25,786.1 1487.25,790.4 1502.25,782.4 1517.25,766.8 1532.25,755.6 1547.25,752.3 1562.25,752.3 1578.25,754.0 1593.25,757.3 1608.25,763.6 1623.25,779.9 1638.25,804.9 1653.25,824.5 1668.25,805.7 1683.25,782.4 1698.25,769.3" fill="none" stroke="#ff0000" stroke-width="4" stroke-linejoin="round" stroke-linecap="round" stroke-opacity="0.65"/>
<polyline points="7.25,762.8 22.25,761.8 37.25,761.1 52.25,760.6 67.25,760.6 82.25,761.1 97.25,762.3 112.25,763.6 127.25,764.6 143.25,765.6 158.25,766.8 173.25,776.6 188.25,784.9 203.25,791.2 218.25,797.4 233.25,802.4 248.25,806.7 263.25,811.2 278.25,814.5 294.25,814.2 309.25,813.7 324.25,810.7 339.25,809.7 354.25,810.2 369.25,810.5 384.25,810.5 399.25,812.2 414.25,811.5 430.25,812.5 445.25,812.0 460.25,811.5 475.25,811.2 490.25,806.9 505.25,804.9 520.25,803.2 535.25,803.2 550.25,801.9 565.25,800.9 581.25,798.2 596.25,794.7 611.25,791.9 626.25,788.1 641.25,786.1 656.25,790.4 671.25,793.7 686.25,789.1 701.25,786.9 717.25,784.1 732.25,788.1 747.25,787.6 762.25,783.4 777.25,785.6 792.25,792.2 807.25,795.7 822.25,801.9 837.25,806.9 852.25,812.0 868.25,815.5 883.25,816.2 898.25,817.7 913.25,820.5 928.25,823.5 943.25,820.5 958.25,817.5 973.25,812.0 988.25,808.7 1004.25,804.2 1019.25,801.2 1034.25,796.9 1049.25,791.9 1064.25,786.9 1079.25,783.1 1094.25,779.6 1109.25,776.1 1124.25,776.1 1139.25,772.9 1155.25,769.1 1170.25,768.3 1185.25,767.1 1200.25,767.3 1215.25,768.8 1230.25,770.8 1245.25,773.6 1260.25,778.1 1275.25,782.6 1291.25,787.4 1306.25,792.7 1321.25,798.7 1336.25,796.2 1351.25,791.2 1366.25,784.9 1381.25,779.9 1396.25,772.9 1411.25,772.9 1426.25,772.3 1442.25,768.1 1457.25,762.3 1472.25,766.1 1487.25,767.1 1502.25,766.6 1517.25,766.1 1532.25,764.3 1547.25,764.3 1562.25,762.8 1578.25,759.8 1593.25,757.3 1608.25,753.0 1623.25,751.5 1638.25,751.8 1653.25,753.5 1668.25,753.5 1683.25,753.3 1698.25,754.0" fill="none" stroke="#0000ff" stroke-width="3" stroke-linejoin="round" stroke-linecap="round" stroke-opacity="0.65"/>
<polyline points="7.25,813.2 22.25,811.7 37.25,809.5 52.25,807.2 67.25,804.9 82.25,802.7 97.25,800.7 112.25,798.4 127.25,796.2 143.25,793.9 158.25,791.7 173.25,791.4 188.25,791.2 203.25,790.7 218.25,790.4 233.25,790.1 248.25,789.9 263.25,789.6 278.25,789.6 294.25,790.4 309.25,791.2 324.25,791.2 339.25,791.7 354.25,791.9 369.25,791.9 384.25,791.9 399.25,793.2 414.25,794.7 430.25,796.7 445.25,798.7 460.25,800.2 475.25,801.9 490.25,802.4 505.25,804.2 520.25,807.4 535.25,812.0 550.25,814.5 565.25,817.0 581.25,817.2 596.25,817.0 611.25,816.5 626.25,815.7 641.25,815.5 656.25,815.0 671.25,814.7 686.25,813.5 701.25,812.2 717.25,811.7 732.25,811.2 747.25,811.2 762.25,811.0 777.25,811.5 792.25,811.7 807.25,811.7 822.25,811.7 837.25,811.7 852.25,811.7 868.25,811.5 883.25,811.2 898.25,811.0 913.25,811.0 928.25,811.0 943.25,809.0 958.25,807.9 973.25,807.7 988.25,807.4 1004.25,807.4 1019.25,807.7 1034.25,807.4 1049.25,810.0 1064.25,809.5 1079.25,809.0 1094.25,808.7 1109.25,808.4 1124.25,808.2 1139.25,806.9 1155.25,806.2 1170.25,804.2 1185.25,803.2 1200.25,801.2 1215.25,800.7 1230.25,800.4 1245.25,800.7 1260.25,801.2 1275.25,800.2 1291.25,799.2 1306.25,798.9 1321.25,799.4 1336.25,799.2 1351.25,797.4 1366.25,794.9 1381.25,791.7 1396.25,788.1 1411.25,784.9 1426.25,781.6 1442.25,778.6 1457.25,776.1 1472.25,773.6 1487.25,769.1 1502.25,766.1 1517.25,764.8 1532.25,763.1 1547.25,761.1 1562.25,761.1 1578.25,760.6 1593.25,760.3 1608.25,760.3 1623.25,760.6 1638.25,760.6 1653.25,761.6 1668.25,761.6 1683.25,761.6 1698.25,761.6" fill="none" stroke="#008000" stroke-width="2" stroke-linejoin="round" stroke-linecap="round" stroke-opacity="0.7"/>
<line x1="10.6" y1="748.5" x2="1765" y2="748.5" stroke="#707278" stroke-width="1" stroke-dasharray="5 6" shape-rendering="crispEdges"/>
<line x1="10.6" y1="824.5" x2="1765" y2="824.5" stroke="#707278" stroke-width="1" stroke-dasharray="5 6" shape-rendering="crispEdges"/>
</g>
<text x="10.6" y="19.0" font-size="12" fill="#131722" textLength="41.4" lengthAdjust="spacingAndGlyphs" xml:space="preserve">t6a2ka6</text>
<text x="55.6" y="19.6" font-size="12" fill="#131722" font-family="'Liberation Sans', 'Noto Sans CJK JP', sans-serif" textLength="12" lengthAdjust="spacingAndGlyphs" xml:space="preserve">が</text>
<text x="71.8" y="19.0" font-size="12" fill="#131722" textLength="89.7" lengthAdjust="spacingAndGlyphs" xml:space="preserve">TradingView.com</text>
<text x="166.6" y="19.6" font-size="12" fill="#131722" font-family="'Liberation Sans', 'Noto Sans CJK JP', sans-serif" textLength="12" lengthAdjust="spacingAndGlyphs" xml:space="preserve">で</text>
<text x="182.0" y="19.0" font-size="12" fill="#131722" textLength="11.0" lengthAdjust="spacingAndGlyphs" xml:space="preserve">10</text>
<text x="192.4" y="19.6" font-size="12" fill="#131722" font-family="'Liberation Sans', 'Noto Sans CJK JP', sans-serif" textLength="12" lengthAdjust="spacingAndGlyphs" xml:space="preserve">月</text>
<text x="209.7" y="19.0" font-size="12" fill="#131722" textLength="116.5" lengthAdjust="spacingAndGlyphs" xml:space="preserve">25, 2024 16:05 UTC+9</text>
<text x="329.7" y="19.6" font-size="12" fill="#131722" font-family="'Liberation Sans', 'Noto Sans CJK JP', sans-serif" textLength="36" lengthAdjust="spacingAndGlyphs" xml:space="preserve">に公開</text>
<text x="17.6" y="46.4" font-size="12" fill="#131722" font-family="'Liberation Sans', 'Noto Sans CJK JP', sans-serif" textLength="60" lengthAdjust="spacingAndGlyphs" xml:space="preserve">三菱重工業</text>
<text x="78.6" y="46.0" font-size="12" fill="#131722" textLength="40.0" lengthAdjust="spacingAndGlyphs" xml:space="preserve">, 3, TSE</text>
<text x="126.0" y="46.4" font-size="12" fill="#131722" font-family="'Liberation Sans', 'Noto Sans CJK JP', sans-serif" textLength="24" lengthAdjust="spacingAndGlyphs" xml:space="preserve">始値</text>
<text x="151.2" y="46.0" font-size="12" fill="#f23645" textLength="39.5" lengthAdjust="spacingAndGlyphs" xml:space="preserve">2,098.5</text>
<text x="197.9" y="46.4" font-size="12" fill="#131722" font-family="'Liberation Sans', 'Noto Sans CJK JP', sans-serif" textLength="24" lengthAdjust="spacingAndGlyphs" xml:space="preserve">高値</text>
<text x="222.9" y="46.0" font-size="12" fill="#f23645" textLength="39.5" lengthAdjust="spacingAndGlyphs" xml:space="preserve">2,098.5</text>
<text x="269.4" y="46.4" font-size="12" fill="#131722" font-family="'Liberation Sans', 'Noto Sans CJK JP', sans-serif" textLength="24" lengthAdjust="spacingAndGlyphs" xml:space="preserve">安値</text>
<text x="294.4" y="46.0" font-size="12" fill="#f23645" textLength="39.5" lengthAdjust="spacingAndGlyphs" xml:space="preserve">2,097.5</text>
<text x="340.7" y="46.4" font-size="12" fill="#131722" font-family="'Liberation Sans', 'Noto Sans CJK JP', sans-serif" textLength="24" lengthAdjust="spacingAndGlyphs" xml:space="preserve">終値</text>
<text x="365.6" y="46.0" font-size="12" fill="#f23645" textLength="39.5" lengthAdjust="spacingAndGlyphs" xml:space="preserve">2,097.5</text>
<text x="413.0" y="46.0" font-size="12" fill="#f23645" textLength="71.8" lengthAdjust="spacingAndGlyphs" xml:space="preserve">−4.0 (−0.19%)</text>
<text x="17.6" y="63.6" font-size="12" fill="#131722" font-family="'Liberation Sans', 'Noto Sans CJK JP', sans-serif" textLength="36" lengthAdjust="spacingAndGlyphs" xml:space="preserve">出来高</text>
<text x="62.0" y="63.2" font-size="12" fill="#ef5350" textLength="27.5" lengthAdjust="spacingAndGlyphs" xml:space="preserve">1.597</text>
<text x="92.0" y="63.2" font-size="12" fill="#ef5350" textLength="9.5" lengthAdjust="spacingAndGlyphs" xml:space="preserve">M</text>
<text x="18.4" y="80.0" font-size="12" fill="#131722" textLength="54.5" lengthAdjust="spacingAndGlyphs" xml:space="preserve">MA Cross (</text>
<text x="72.3" y="80.4" font-size="12" fill="#131722" font-family="'Liberation Sans', 'Noto Sans CJK JP', sans-serif" textLength="96" lengthAdjust="spacingAndGlyphs" xml:space="preserve">移動平均線の交差</text>
<text x="168.9" y="80.0" font-size="12" fill="#131722" textLength="43.5" lengthAdjust="spacingAndGlyphs" xml:space="preserve">) (5, 12)</text>
<text x="220.6" y="80.0" font-size="12" fill="#ff6d00" textLength="39.5" lengthAdjust="spacingAndGlyphs" xml:space="preserve">2,096.2</text>
<text x="267.8" y="80.0" font-size="12" fill="#43a047" textLength="39.8" lengthAdjust="spacingAndGlyphs" xml:space="preserve">2,095.7</text>
<g stroke="#131722" stroke-width="1" fill="none"><circle cx="320.3" cy="75.5" r="4.1"/><line x1="317.4" y1="78.4" x2="323.2" y2="72.6"/></g>
<text x="18.2" y="757.3" font-size="12" fill="#131722" textLength="195.0" lengthAdjust="spacingAndGlyphs" xml:space="preserve">RCI3lines (9, 26, 52, close, 100, -90)</text>
<text x="221.5" y="757.3" font-size="12" fill="#ff0000" textLength="22.5" lengthAdjust="spacingAndGlyphs" xml:space="preserve">44.2</text>
<text x="252.0" y="757.3" font-size="12" fill="#0000ff" textLength="22.5" lengthAdjust="spacingAndGlyphs" xml:space="preserve">84.3</text>
<text x="282.5" y="757.3" font-size="12" fill="#008000" textLength="22.5" lengthAdjust="spacingAndGlyphs" xml:space="preserve">65.3</text>
<text x="1774.3" y="714.5" font-size="12" fill="#131722" textLength="39.8" lengthAdjust="spacingAndGlyphs" xml:space="preserve">2,060.0</text>
<text x="1774.3" y="672.5" font-size="12" fill="#131722" textLength="39.8" lengthAdjust="spacingAndGlyphs" xml:space="preserve">2,064.0</text>
<text x="1774.3" y="629.5" font-size="12" fill="#131722" textLength="39.8" lengthAdjust="spacingAndGlyphs" xml:space="preserve">2,068.0</text>
<text x="1774.3" y="587.5" font-size="12" fill="#131722" textLength="39.8" lengthAdjust="spacingAndGlyphs" xml:space="preserve">2,072.0</text>
<text x="1774.3" y="545.5" font-size="12" fill="#131722" textLength="39.8" lengthAdjust="spacingAndGlyphs" xml:space="preserve">2,076.0</text>
<text x="1774.3" y="503.5" font-size="12" fill="#131722" textLength="39.8" lengthAdjust="spacingAndGlyphs" xml:space="preserve">2,080.0</text>
<text x="1774.3" y="460.5" font-size="12" fill="#131722" textLength="39.8" lengthAdjust="spacingAndGlyphs" xml:space="preserve">2,084.0</text>
<text x="1774.3" y="418.5" font-size="12" fill="#131722" textLength="39.8" lengthAdjust="spacingAndGlyphs" xml:space="preserve">2,088.0</text>
<text x="1774.3" y="376.5" font-size="12" fill="#131722" textLength="39.8" lengthAdjust="spacingAndGlyphs" xml:space="preserve">2,092.0</text>
<text x="1774.3" y="333.5" font-size="12" fill="#131722" textLength="39.8" lengthAdjust="spacingAndGlyphs" xml:space="preserve">2,096.0</text>
<text x="1774.3" y="291.5" font-size="12" fill="#131722" textLength="39.8" lengthAdjust="spacingAndGlyphs" xml:space="preserve">2,100.0</text>
<text x="1774.3" y="249.5" font-size="12" fill="#131722" textLength="39.8" lengthAdjust="spacingAndGlyphs" xml:space="preserve">2,104.0</text>
<text x="1774.3" y="207.5" font-size="12" fill="#131722" textLength="39.8" lengthAdjust="spacingAndGlyphs" xml:space="preserve">2,108.0</text>
<text x="1774.3" y="164.5" font-size="12" fill="#131722" textLength="39.8" lengthAdjust="spacingAndGlyphs" xml:space="preserve">2,112.0</text>
<text x="1774.3" y="122.5" font-size="12" fill="#131722" textLength="39.8" lengthAdjust="spacingAndGlyphs" xml:space="preserve">2,116.0</text>
<text x="1774.3" y="80.5" font-size="12" fill="#131722" textLength="39.8" lengthAdjust="spacingAndGlyphs" xml:space="preserve">2,120.0</text>
<text x="1774.0" y="791.9" font-size="12" fill="#131722" textLength="17.0" lengthAdjust="spacingAndGlyphs" xml:space="preserve">0.0</text>
<text x="1774.3" y="831.8" font-size="12" fill="#131722" textLength="35.4" lengthAdjust="spacingAndGlyphs" xml:space="preserve">−100.0</text>
<rect x="1769.2" y="30.9" width="51.6" height="26" rx="4.5" fill="#fff" stroke="#e9ebf2" stroke-width="1.6"/>
<text x="1778.1" y="48.7" font-size="12" fill="#131722" textLength="19.0" lengthAdjust="spacingAndGlyphs" xml:space="preserve">JPY</text>
<path d="M1766 307h52a2 2 0 0 1 2 2v13a2 2 0 0 1 -2 2h-52z" fill="#f23645"/><text x="1774.3" y="319.1" font-size="12" fill="#fff" textLength="39.8" lengthAdjust="spacingAndGlyphs" font-weight="bold" xml:space="preserve">2,097.5</text>
<path d="M1766 324h52a2 2 0 0 1 2 2v13a2 2 0 0 1 -2 2h-52z" fill="#ff6d00"/><text x="1774.3" y="336.1" font-size="12" fill="#fff" textLength="39.8" lengthAdjust="spacingAndGlyphs" font-weight="bold" xml:space="preserve">2,096.2</text>
<path d="M1766 341h52a2 2 0 0 1 2 2v13a2 2 0 0 1 -2 2h-52z" fill="#43a047"/><text x="1774.3" y="353.1" font-size="12" fill="#fff" textLength="39.8" lengthAdjust="spacingAndGlyphs" font-weight="bold" xml:space="preserve">2,095.7</text>
<path d="M1766 358h52a2 2 0 0 1 2 2v13a2 2 0 0 1 -2 2h-52z" fill="#2962ff"/><text x="1774.3" y="370.1" font-size="12" fill="#fff" textLength="39.8" lengthAdjust="spacingAndGlyphs" font-weight="bold" xml:space="preserve">2,095.5</text>
<path d="M1766 646h51a2 2 0 0 1 2 2v13a2 2 0 0 1 -2 2h-51z" fill="#ef5350"/><text x="1774.3" y="658.7" font-size="12" fill="#fff" textLength="39.5" lengthAdjust="spacingAndGlyphs" font-weight="bold" xml:space="preserve">1.597M</text>
<g clip-path="url(#cpa)">
<path d="M1766 728h36a1 1 0 0 1 1 1v15.299999999999955a1 1 0 0 1 -1 1h-36z" fill="#0000ff"/><text x="1774.3" y="741.1" font-size="12" fill="#fff" textLength="23.0" lengthAdjust="spacingAndGlyphs" font-weight="bold" xml:space="preserve">84.3</text>
<path d="M1766 745.3h36a1 1 0 0 1 1 1v14.700000000000045a1 1 0 0 1 -1 1h-36z" fill="#008000"/><text x="1774.3" y="758.1" font-size="12" fill="#fff" textLength="23.0" lengthAdjust="spacingAndGlyphs" font-weight="bold" xml:space="preserve">65.3</text>
<path d="M1766 762h36a1 1 0 0 1 1 1v14.799999999999955a1 1 0 0 1 -1 1h-36z" fill="#ff0000"/><text x="1774.3" y="774.9" font-size="12" fill="#fff" textLength="23.0" lengthAdjust="spacingAndGlyphs" font-weight="bold" xml:space="preserve">44.2</text>
</g>
<g clip-path="url(#cpt)">
<text x="-7.6" y="852.0" font-size="12" fill="#131722" textLength="29.3" lengthAdjust="spacingAndGlyphs" xml:space="preserve">14:30</text>
<text x="167.2" y="852.0" font-size="12" fill="#131722" textLength="12.1" lengthAdjust="spacingAndGlyphs" xml:space="preserve">25</text>
<text x="309.7" y="852.0" font-size="12" fill="#131722" textLength="29.3" lengthAdjust="spacingAndGlyphs" xml:space="preserve">09:30</text>
<text x="460.7" y="852.0" font-size="12" fill="#131722" textLength="29.3" lengthAdjust="spacingAndGlyphs" xml:space="preserve">10:00</text>
<text x="611.8" y="852.0" font-size="12" fill="#131722" textLength="29.3" lengthAdjust="spacingAndGlyphs" xml:space="preserve">10:30</text>
<text x="762.8" y="852.0" font-size="12" fill="#131722" textLength="29.3" lengthAdjust="spacingAndGlyphs" xml:space="preserve">11:00</text>
<text x="929.0" y="852.0" font-size="12" fill="#131722" textLength="29.3" lengthAdjust="spacingAndGlyphs" xml:space="preserve">12:30</text>
<text x="1080.0" y="852.0" font-size="12" fill="#131722" textLength="29.3" lengthAdjust="spacingAndGlyphs" xml:space="preserve">13:00</text>
<text x="1231.1" y="852.0" font-size="12" fill="#131722" textLength="29.3" lengthAdjust="spacingAndGlyphs" xml:space="preserve">13:30</text>
<text x="1382.1" y="852.0" font-size="12" fill="#131722" textLength="29.3" lengthAdjust="spacingAndGlyphs" xml:space="preserve">14:00</text>
<text x="1533.2" y="852.0" font-size="12" fill="#131722" textLength="29.3" lengthAdjust="spacingAndGlyphs" xml:space="preserve">14:30</text>
<text x="1707.5" y="852.0" font-size="12" fill="#131722" textLength="13.0" lengthAdjust="spacingAndGlyphs" font-weight="bold" xml:space="preserve">28</text>
</g>
<g transform="translate(9.9 871.8) scale(0.553)" fill="#131722"><path d="M14 22H7V11H0V4h14v18zM28 22h-8l7.5-18h8L28 22z"/><circle cx="20" cy="8" r="4"/></g>
<text x="33.0" y="884.0" font-size="12.6" fill="#131722" textLength="70.3" lengthAdjust="spacingAndGlyphs" xml:space="preserve">TradingView</text>
</svg></body></html>
